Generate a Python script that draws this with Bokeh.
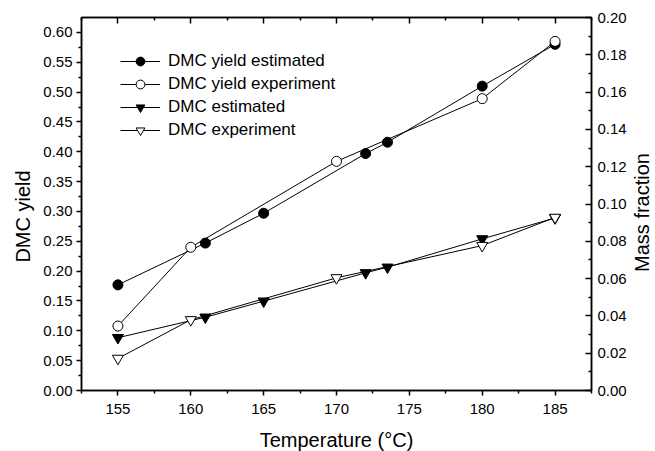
import math
from bokeh.plotting import figure
from bokeh.models import (Range1d, LinearAxis, Legend, LegendItem, NumeralTickFormatter,
                          FixedTicker, CustomJSTickFormatter, Label)
from bokeh.embed import file_html
from bokeh.resources import INLINE

# ---- data ----
temp_yield_est = [155, 161, 165, 172, 173.5, 180, 185]
yield_est = [0.177, 0.247, 0.297, 0.397, 0.416, 0.510, 0.580]
temp_yield_exp = [155, 160, 170, 180, 185]
yield_exp = [0.108, 0.240, 0.384, 0.489, 0.585]
temp_mf_est = [155, 161, 165, 172, 173.5, 180, 185]
mf_est = [0.0283, 0.0393, 0.0479, 0.0631, 0.0661, 0.0813, 0.0925]
temp_mf_exp = [155, 160, 170, 180, 185]
mf_exp = [0.0172, 0.0379, 0.0604, 0.0777, 0.0928]

x_ticks = [155, 160, 165, 170, 175, 180, 185]
left_ticks = [round(0.05 * i, 2) for i in range(13)]
right_ticks = [round(0.02 * i, 2) for i in range(11)]

FONT = "Liberation Sans"

p = figure(width=655, height=451, output_backend="svg", toolbar_location=None,
           x_range=Range1d(152.5, 187.5), y_range=Range1d(0, 0.625),
           frame_width=510, frame_height=373,
           min_border_left=81, min_border_right=64, min_border_top=17, min_border_bottom=61)
p.extra_y_ranges = {"right": Range1d(0, 0.2)}
p.xgrid.visible = False
p.ygrid.visible = False
p.outline_line_color = "black"
p.outline_line_width = 1.5
p.background_fill_color = "white"
p.border_fill_color = "white"

def style_axis(ax, tick_in=0, tick_out=5):
    ax.axis_line_width = 1.5
    ax.axis_line_color = "black"
    ax.major_tick_line_width = 1.5
    ax.minor_tick_line_width = 1.5
    ax.major_tick_in = tick_in
    ax.major_tick_out = tick_out
    ax.minor_tick_in = 0 if tick_in == 0 else 3
    ax.minor_tick_out = 0 if tick_out == 0 else 3
    ax.major_label_text_font = FONT
    ax.major_label_text_font_size = "15px"
    ax.major_label_text_color = "black"
    ax.axis_label_text_font = FONT
    ax.axis_label_text_font_size = "20px"
    ax.axis_label_text_font_style = "normal"
    ax.axis_label_text_color = "black"

xa = p.xaxis[0]
xa.ticker = FixedTicker(ticks=x_ticks, minor_ticks=[152.5 + 5 * i for i in range(8)])
xa.axis_label = "Temperature (°C)"
style_axis(xa)
xa.major_label_standoff = 8
xa.axis_label_standoff = 12

ya = p.yaxis[0]
ya.ticker = FixedTicker(ticks=left_ticks, minor_ticks=[0.025 + 0.05 * i for i in range(13)])
ya.formatter = NumeralTickFormatter(format="0.00")
style_axis(ya)
ya.major_label_standoff = 4

left_title = Label(x=4, y=174, x_units="screen", y_units="screen",
                   text="DMC yield", angle=math.pi / 2,
                   text_align="center", text_baseline="middle",
                   text_font=FONT, text_font_size="20px", text_color="black")
p.add_layout(left_title, "left")

ra = LinearAxis(y_range_name="right")
ra.ticker = FixedTicker(ticks=right_ticks, minor_ticks=[0.01 + 0.02 * i for i in range(10)])
ra.formatter = NumeralTickFormatter(format="0.00")
style_axis(ra, tick_in=6, tick_out=0)
ra.major_label_standoff = 6
p.add_layout(ra, "right")

right_title = Label(x=12, y=178, x_units="screen", y_units="screen",
                    text="Mass fraction", angle=math.pi / 2,
                    text_align="center", text_baseline="middle",
                    text_font=FONT, text_font_size="20px", text_color="black")
p.add_layout(right_title, "right")

ta = LinearAxis()
ta.ticker = FixedTicker(ticks=x_ticks, minor_ticks=[152.5 + 5 * i for i in range(8)])
ta.formatter = CustomJSTickFormatter(code="return ''")
style_axis(ta, tick_in=6, tick_out=0)
ta.major_label_standoff = 0
p.add_layout(ta, "above")

# ---- glyphs ----
l1 = p.line(temp_yield_est, yield_est, line_color="black", line_width=1)
m1 = p.scatter(temp_yield_est, yield_est, marker="circle", size=10,
               fill_color="black", line_color="black")
l2 = p.line(temp_yield_exp, yield_exp, line_color="black", line_width=1)
m2 = p.scatter(temp_yield_exp, yield_exp, marker="circle", size=10,
               fill_color="white", line_color="black", line_width=1)
l3 = p.line(temp_mf_est, mf_est, line_color="black", line_width=1, y_range_name="right")
m3 = p.scatter(temp_mf_est, mf_est, marker="inverted_triangle", size=11,
               fill_color="black", line_color="black", y_range_name="right")
l4 = p.line(temp_mf_exp, mf_exp, line_color="black", line_width=1, y_range_name="right")
m4 = p.scatter(temp_mf_exp, mf_exp, marker="inverted_triangle", size=11,
               fill_color="white", line_color="black", line_width=1, y_range_name="right")

legend = Legend(items=[
    LegendItem(label="DMC yield estimated", renderers=[l1, m1]),
    LegendItem(label="DMC yield experiment", renderers=[l2, m2]),
    LegendItem(label="DMC estimated", renderers=[l3, m3]),
    LegendItem(label="DMC experiment", renderers=[l4, m4]),
], location=(39, 249))
legend.border_line_color = None
legend.background_fill_alpha = 0
legend.padding = 0
legend.margin = 0
legend.spacing = 1
legend.glyph_width = 40
legend.glyph_height = 22
legend.label_height = 22
legend.label_standoff = 8
legend.label_text_font = FONT
legend.label_text_font_size = "17px"
legend.label_text_color = "black"
p.add_layout(legend, "center")

open("out.html", "w").write(file_html(p, INLINE))
